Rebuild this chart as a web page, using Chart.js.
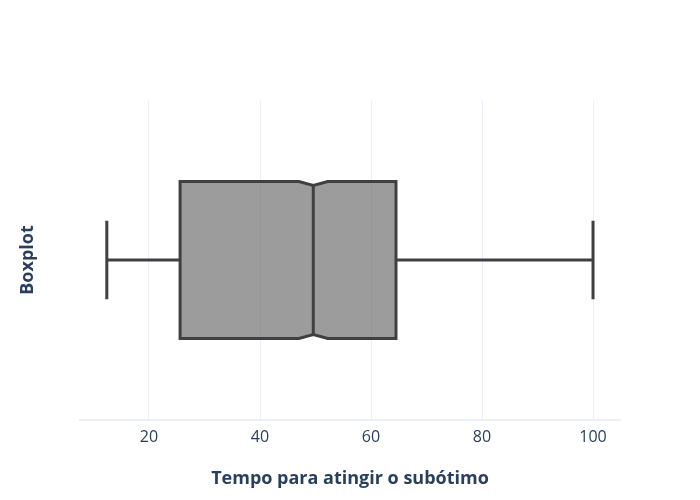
<!DOCTYPE html>
<html>
<head>
<meta charset="utf-8">
<script src="https://cdn.jsdelivr.net/npm/chart.js@4"></script>
<style>
  body { margin: 0; background: #fff; }
  canvas { display: block; }
</style>
</head>
<body>
<canvas id="chartContainer" width="700" height="500"></canvas>
<script>
// data
let categories = ["Boxplot"];
let lowerFence = [12.4];
let q1 = [25.6];
let median = [49.6];
let q3 = [64.5];
let upperFence = [100];
let notchLow = [47.0];
let notchHigh = [52.2];

let xTicks = [20, 40, 60, 80, 100];
let xRange = [7.57, 104.86];

let textColor = "#2a3f5f";
let gridColor = "#ebf0f8";

// draws the notched box with the chart's own scales
let boxPlugin = {
  id: "notchedBox",
  afterDatasetsDraw(chart) {
    let ctx = chart.ctx;
    let x = chart.scales.x;
    let y = chart.scales.y;
    let band = (y.bottom - y.top) / categories.length;

    categories.forEach((cat, i) => {
      let cy = y.getPixelForValue(i);
      let half = band * 0.245;
      let cap = half * 0.5;
      let notchIn = half * 0.05;

      let pLow = x.getPixelForValue(lowerFence[i]);
      let pQ1 = x.getPixelForValue(q1[i]);
      let pMed = x.getPixelForValue(median[i]);
      let pQ3 = x.getPixelForValue(q3[i]);
      let pHigh = x.getPixelForValue(upperFence[i]);
      let pNl = x.getPixelForValue(notchLow[i]);
      let pNh = x.getPixelForValue(notchHigh[i]);

      ctx.save();
      ctx.lineWidth = 3;
      ctx.strokeStyle = "#404040";
      ctx.lineJoin = "miter";

      // box outline with notch
      ctx.beginPath();
      ctx.moveTo(pQ1, cy - half);
      ctx.lineTo(pNl, cy - half);
      ctx.lineTo(pMed, cy - half + notchIn);
      ctx.lineTo(pNh, cy - half);
      ctx.lineTo(pQ3, cy - half);
      ctx.lineTo(pQ3, cy + half);
      ctx.lineTo(pNh, cy + half);
      ctx.lineTo(pMed, cy + half - notchIn);
      ctx.lineTo(pNl, cy + half);
      ctx.lineTo(pQ1, cy + half);
      ctx.closePath();
      ctx.fillStyle = "rgba(58,58,58,0.5)";
      ctx.fill();
      ctx.stroke();

      // median
      ctx.beginPath();
      ctx.moveTo(pMed, cy - half + notchIn);
      ctx.lineTo(pMed, cy + half - notchIn);
      ctx.stroke();

      // whiskers
      ctx.beginPath();
      ctx.moveTo(pQ1, cy);
      ctx.lineTo(pLow, cy);
      ctx.moveTo(pLow, cy - cap);
      ctx.lineTo(pLow, cy + cap);
      ctx.moveTo(pQ3, cy);
      ctx.lineTo(pHigh, cy);
      ctx.moveTo(pHigh, cy - cap);
      ctx.lineTo(pHigh, cy + cap);
      ctx.stroke();
      ctx.restore();
    });
  }
};

let chart = new Chart(document.getElementById("chartContainer"), {
  type: "scatter",
  data: {
    labels: categories,
    datasets: [{ data: [] }]
  },
  options: {
    responsive: false,
    animation: false,
    layout: { padding: { top: 100, right: 80, left: 0, bottom: 0 } },
    plugins: {
      legend: { display: false },
      tooltip: { enabled: false }
    },
    scales: {
      x: {
        type: "linear",
        min: xRange[0],
        max: xRange[1],
        afterBuildTicks: (scale) => {
          scale.ticks = xTicks.map(v => ({ value: v }));
        },
        afterFit: (scale) => { scale.height = 80; },
        grid: { color: gridColor, lineWidth: 1, drawTicks: false },
        border: { display: true, color: gridColor, width: 2 },
        ticks: {
          color: textColor,
          padding: 8,
          font: { family: "'Open Sans', sans-serif", size: 16 }
        },
        title: {
          display: true,
          text: "Tempo para atingir o subótimo",
          color: textColor,
          padding: { top: 0, bottom: 10 },
          font: { family: "'Open Sans', sans-serif", size: 18, weight: "bold" }
        }
      },
      y: {
        type: "category",
        labels: categories,
        offset: true,
        afterFit: (scale) => { scale.width = 80; },
        grid: { display: false },
        border: { display: false },
        ticks: { display: false },
        title: {
          display: true,
          text: "Boxplot",
          color: textColor,
          padding: { top: 17, bottom: 0 },
          font: { family: "'Open Sans', sans-serif", size: 18, weight: "bold" }
        }
      }
    }
  },
  plugins: [boxPlugin]
});
</script>
</body>
</html>
